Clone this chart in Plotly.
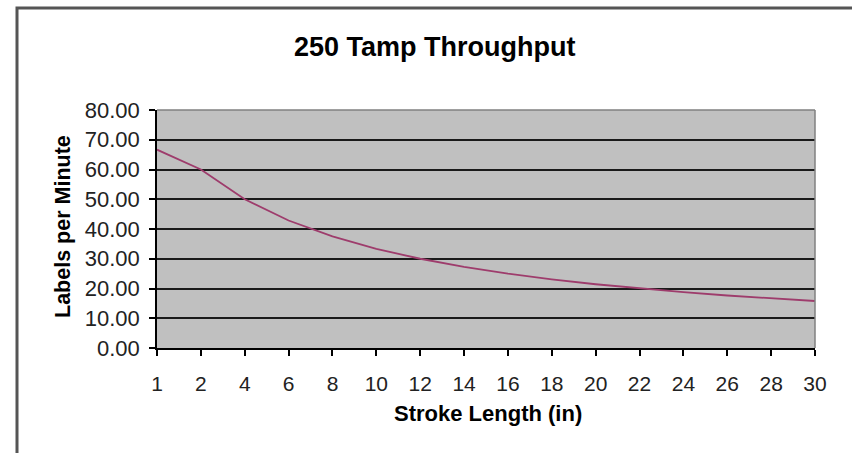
import plotly.graph_objects as go

stroke_length = ["1", "2", "4", "6", "8", "10", "12", "14", "16", "18", "20", "22", "24", "26", "28", "30"]
labels_per_minute = [66.67, 60.00, 50.00, 42.86, 37.50, 33.33, 30.00, 27.27, 25.00, 23.08, 21.43, 20.00, 18.75, 17.65, 16.67, 15.79]
y_ticks = [0, 10, 20, 30, 40, 50, 60, 70, 80]

W, H = 852, 453
L, R, T, B = 157, 815, 110, 348

def px(x):
    return (x - L) / (R - L)

def py(y):
    return (B - y) / (B - T)

FONT = "Liberation Sans, Arial, sans-serif"

fig = go.Figure()
fig.add_trace(go.Scatter(
    x=stroke_length, y=labels_per_minute, mode="lines",
    line=dict(color="#9E3C6C", width=1.8), showlegend=False,
))

fig.update_layout(
    width=W, height=H,
    margin=dict(l=L, r=W - R, t=T, b=H - B, pad=0),
    paper_bgcolor="white",
    plot_bgcolor="#C0C0C0",
    font=dict(family=FONT, color="black"),
    showlegend=False,
)

fig.update_xaxes(
    type="category", range=[0, len(stroke_length) - 1],
    showgrid=False, showline=True, linecolor="black", linewidth=1.5,
    ticks="outside", ticklen=6, tickwidth=1.5, tickcolor="black",
    tickfont=dict(size=21, family=FONT, color="#222"),
    ticklabelstandoff=10,
    zeroline=False,
)
fig.update_yaxes(
    range=[0, 80], tickvals=y_ticks, tickformat=".2f",
    showgrid=True, gridcolor="#1a1a1a", gridwidth=1.8,
    showline=True, linecolor="black", linewidth=1.5,
    ticks="outside", ticklen=6, tickwidth=1.5, tickcolor="black",
    tickfont=dict(size=22, family=FONT, color="#222"),
    ticklabelstandoff=5,
    zeroline=False,
)

shapes = [
    # outer chart frame (left and top visible)
    dict(type="rect", xref="paper", yref="paper",
         x0=px(17), x1=px(W + 10), y0=py(H + 10), y1=py(8),
         line=dict(color="#555555", width=3), layer="below"),
    # plot area border (top and right)
    dict(type="line", xref="paper", yref="paper", x0=0, x1=1, y0=1, y1=1,
         line=dict(color="#808080", width=1.5)),
    dict(type="line", xref="paper", yref="paper", x0=1, x1=1, y0=0, y1=1,
         line=dict(color="#808080", width=1.5)),
]
fig.update_layout(shapes=shapes)

fig.add_annotation(text="<b>250 Tamp Throughput</b>", xref="paper", yref="paper",
                   x=px(435), y=py(47), xanchor="center", yanchor="middle",
                   showarrow=False, font=dict(size=27, family=FONT, color="black"))
fig.add_annotation(text="<b>Stroke Length (in)</b>", xref="paper", yref="paper",
                   x=px(488), y=py(413), xanchor="center", yanchor="middle",
                   showarrow=False, font=dict(size=22, family=FONT, color="black"))
fig.add_annotation(text="<b>Labels per Minute</b>", xref="paper", yref="paper",
                   x=px(63), y=py(227), xanchor="center", yanchor="middle",
                   textangle=-90, showarrow=False,
                   font=dict(size=21.5, family=FONT, color="black"))

fig.write_html("out.html", config={"displayModeBar": False},
               post_script="document.body.style.margin='0';")
